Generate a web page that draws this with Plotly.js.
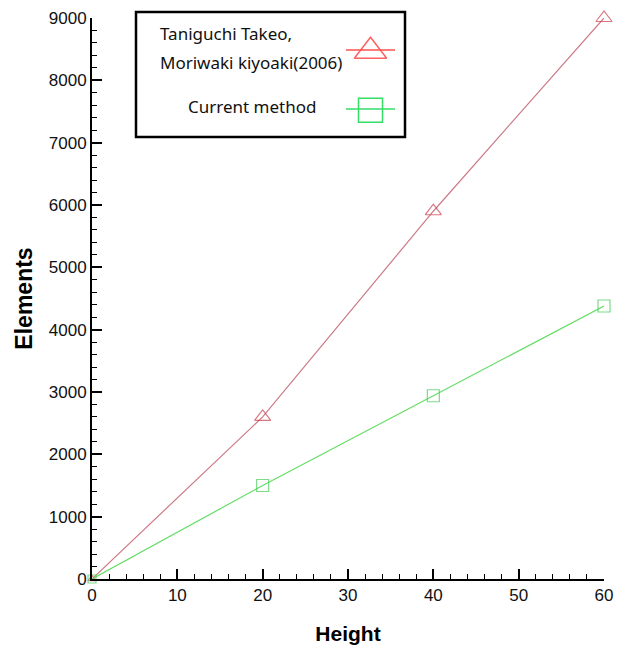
<!DOCTYPE html>
<html>
<head>
<meta charset="utf-8">
<script src="https://cdn.plot.ly/plotly-3.0.1.min.js"></script>
<style>html,body{margin:0;padding:0;background:#fff;}#chart{width:625px;height:647px;}</style>
</head>
<body>
<div id="chart"></div>
<script>
// ---- data ----
const heights = [0, 20, 40, 60];
const taniguchiElements = [0, 2600, 5900, 9000];
const currentElements = [0, 1500, 2940, 4380];
const seriesNames = ["Taniguchi Takeo,", "Moriwaki kiyoaki(2006)", "Current method"];
const xTitle = "Height";
const yTitle = "Elements";

// plot frame in pixels: x 92..604, y 18..579
const PX = {l: 92, r: 604, t: 18, b: 579};
const px2x = v => (v - PX.l) / (PX.r - PX.l);
const px2y = v => (PX.b - v) / (PX.b - PX.t);

const traces = [
  {
    x: heights, y: taniguchiElements, type: 'scatter', mode: 'lines+markers',
    line: {color: '#cc7a86', width: 1.2},
    marker: {symbol: 'triangle-up-open', size: [7, 14, 14, 14], color: '#cc3c4c', line: {width: 1.2}},
    cliponaxis: false, showlegend: false
  },
  {
    x: heights, y: currentElements, type: 'scatter', mode: 'lines+markers',
    line: {color: '#66dd66', width: 1.2},
    marker: {symbol: 'square-open', size: [8, 12, 12, 12], color: '#44cc55', line: {width: 1.2}},
    cliponaxis: false, showlegend: false
  },
  // legend symbols (small hidden subplot inside the legend box)
  {
    x: [0.5], y: [0.72], xaxis: 'x2', yaxis: 'y2', type: 'scatter', mode: 'markers',
    marker: {symbol: 'triangle-up-open', size: 28, color: '#ff6060', line: {width: 1.5}},
    cliponaxis: false, showlegend: false, hoverinfo: 'skip'
  },
  {
    x: [0.5], y: [0.225], xaxis: 'x2', yaxis: 'y2', type: 'scatter', mode: 'markers',
    marker: {symbol: 'square-open', size: 24, color: '#33dd66', line: {width: 1.5}},
    cliponaxis: false, showlegend: false, hoverinfo: 'skip'
  }
];

const tickFont = {family: 'Liberation Sans, Arial, sans-serif', size: 17, color: '#111'};
const xTitleFont = {family: 'Liberation Sans, Arial, sans-serif', size: 21, color: '#000', weight: 'bold'};
const yTitleFont = {family: 'Liberation Sans, Arial, sans-serif', size: 23, color: '#000', weight: 'bold'};
const legFont = {family: 'Noto Sans, Open Sans, sans-serif', size: 17, color: '#111'};

const layout = {
  width: 625, height: 647,
  margin: {l: 92, r: 21, t: 18, b: 68},
  paper_bgcolor: '#fff', plot_bgcolor: 'rgba(0,0,0,0)',
  xaxis: {
    domain: [0, 1], anchor: 'y',
    range: [0, 60], dtick: 10, tick0: 0,
    showline: true, linecolor: '#000', linewidth: 2,
    ticks: 'inside', ticklen: 10, tickwidth: 2, tickcolor: '#000',
    minor: {ticks: 'inside', ticklen: 5, tickwidth: 1, tickcolor: '#000', dtick: 2, showgrid: false},
    showgrid: false, zeroline: false, tickfont: tickFont,
    title: {text: xTitle, font: xTitleFont, standoff: 22}
  },
  yaxis: {
    domain: [0, 1], anchor: 'x',
    range: [0, 9000], dtick: 1000, tick0: 0,
    showline: true, linecolor: '#000', linewidth: 2,
    ticks: 'inside', ticklen: 10, tickwidth: 2, tickcolor: '#000',
    minor: {ticks: 'inside', ticklen: 5, tickwidth: 1, tickcolor: '#000', dtick: 200, showgrid: false},
    showgrid: false, zeroline: false, tickfont: tickFont,
    title: {text: yTitle, font: yTitleFont, standoff: 10}
  },
  xaxis2: {domain: [px2x(346), px2x(395)], anchor: 'y2', range: [0, 1], visible: false, fixedrange: true},
  yaxis2: {domain: [px2y(137), px2y(18)], anchor: 'x2', range: [0, 1], visible: false, fixedrange: true},
  shapes: [
    {type: 'rect', xref: 'paper', yref: 'paper', x0: px2x(136), x1: px2x(405), y0: px2y(12), y1: px2y(137),
     line: {color: '#000', width: 2.5}, fillcolor: 'rgba(0,0,0,0)', layer: 'above'},
    {type: 'line', xref: 'paper', yref: 'paper', x0: px2x(346), x1: px2x(395), y0: px2y(50), y1: px2y(50), line: {color: '#ff5050', width: 1.5}},
    {type: 'line', xref: 'paper', yref: 'paper', x0: px2x(346), x1: px2x(395), y0: px2y(109), y1: px2y(109), line: {color: '#33dd66', width: 1.5}}
  ],
  annotations: [
    {xref: 'paper', yref: 'paper', x: px2x(158), y: px2y(33), xanchor: 'left', yanchor: 'middle', showarrow: false, text: seriesNames[0], font: legFont},
    {xref: 'paper', yref: 'paper', x: px2x(158), y: px2y(62), xanchor: 'left', yanchor: 'middle', showarrow: false, text: seriesNames[1], font: legFont},
    {xref: 'paper', yref: 'paper', x: px2x(252), y: px2y(106), xanchor: 'center', yanchor: 'middle', showarrow: false, text: seriesNames[2], font: legFont}
  ],
  showlegend: false
};

Plotly.newPlot('chart', traces, layout, {displayModeBar: false, staticPlot: true});
</script>
</body>
</html>
